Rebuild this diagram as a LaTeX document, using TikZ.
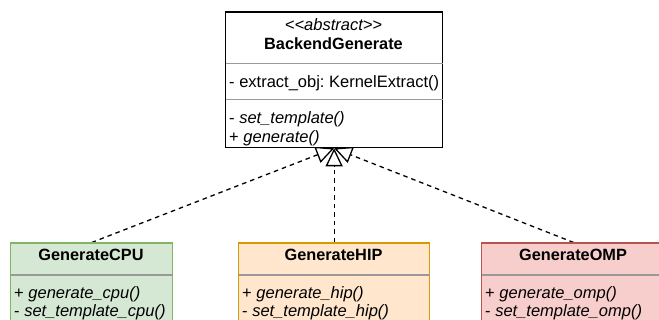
\documentclass[tikz,border=0pt]{standalone}
\usepackage{fontspec}
\setmainfont{Liberation Sans}
\usetikzlibrary{arrows.meta,backgrounds}
\definecolor{cpufill}{HTML}{D5E8D4}
\definecolor{cpuline}{HTML}{82B366}
\definecolor{hipfill}{HTML}{FFE6CC}
\definecolor{hipline}{HTML}{D79B00}
\definecolor{ompfill}{HTML}{F8CECC}
\definecolor{ompline}{HTML}{B85450}
\definecolor{divgray}{HTML}{999999}
\frenchspacing
\begin{document}
\begin{tikzpicture}[x=1pt,y=-1pt,
  box/.style={draw, line width=1.3pt, inner sep=0pt, anchor=north west},
  divline/.style={draw=divgray, line width=1.3pt},
  txt/.style={font=\fontsize{16.5}{20}\selectfont, inner sep=0pt, anchor=base west},
  ttl/.style={font=\fontsize{16.3}{20}\selectfont\bfseries, inner sep=0pt, anchor=base},
  inherit/.style={dashed, dash pattern=on 4.5pt off 4pt, line width=1.3pt,
    -{Triangle[open, length=18pt, width=17pt, line width=1.3pt]}}]
\useasboundingbox (0,0) rectangle (659,320);
\clip (0,0) rectangle (659,320);
% boxes
\node[box, fill=white, minimum width=217pt, minimum height=135.5pt] (top) at (225,11.5) {};
\node[box, draw=cpuline, fill=cpufill, minimum width=162pt, minimum height=100pt] (cpu) at (10,242.5) {};
\node[box, draw=hipline, fill=hipfill, minimum width=191pt, minimum height=100pt] (hip) at (238,242.5) {};
\node[box, draw=ompline, fill=ompfill, minimum width=184pt, minimum height=100pt] (omp) at (481,242.5) {};
% divider helper coordinates
\coordinate (d1) at (0,63.5);
\coordinate (d2) at (0,99.5);
\coordinate (d3) at (0,275);
\draw[divline] ([xshift=0.65pt]top.west |- d1) -- ([xshift=-0.65pt]top.east |- d1);
\draw[divline] ([xshift=0.65pt]top.west |- d2) -- ([xshift=-0.65pt]top.east |- d2);
\draw[divline] ([xshift=0.65pt]cpu.west |- d3) -- ([xshift=-0.65pt]cpu.east |- d3);
\draw[divline] ([xshift=0.65pt]hip.west |- d3) -- ([xshift=-0.65pt]hip.east |- d3);
\draw[divline] ([xshift=0.65pt]omp.west |- d3) -- ([xshift=-0.65pt]omp.east |- d3);
% texts of the abstract class
\node[txt, anchor=base, font=\fontsize{16.5}{20}\selectfont\itshape] (stereo) at (333.5,30.5) {<{}<abstract>{}>};
\node[ttl] (tname) at (333.5,50) {BackendGenerate};
\node[txt] (attr) at (229,87.5) {- extract\_obj: KernelExtract()};
\node[txt] (m1) at (229,124) {- \textit{set\_template()}};
\node[txt] (m2) at (229,142.5) {+ \textit{generate()}};
% child texts
\node[ttl] (cpuname) at (91,261) {GenerateCPU};
\node[txt] (cpum1) at (14,298.5) {+ \textit{generate\_cpu()}};
\node[txt] (cpum2) at (14,317) {- \textit{set\_template\_cpu()}};
\node[ttl] (hipname) at (333.5,261) {GenerateHIP};
\node[txt] (hipm1) at (242,298.5) {+ \textit{generate\_hip()}};
\node[txt] (hipm2) at (242,317) {- \textit{set\_template\_hip()}};
\node[ttl] (ompname) at (573,261) {GenerateOMP};
\node[txt] (ompm1) at (485,298.5) {+ \textit{generate\_omp()}};
\node[txt] (ompm2) at (485,317) {- \textit{set\_template\_omp()}};
% inheritance connectors, behind the boxes
\begin{scope}[on background layer]
\draw[inherit] (cpu.north) -- (top.south);
\draw[inherit] (hip.north) -- (top.south);
\draw[inherit] (omp.north) -- (top.south);
\end{scope}
\end{tikzpicture}
\end{document}
